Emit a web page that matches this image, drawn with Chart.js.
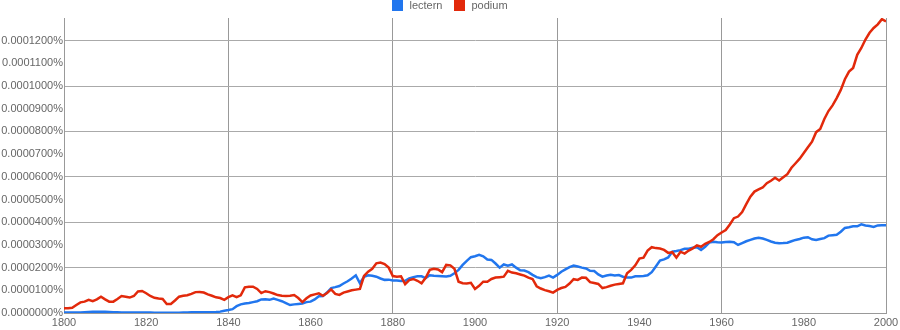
<!DOCTYPE html>
<html>
<head>
<meta charset="utf-8">
<script src="https://cdn.jsdelivr.net/npm/chart.js@4"></script>
<style>
  body { margin: 0; background: #fff; }
  #wrap { position: relative; width: 900px; height: 330px; }
  #legend {
    position: absolute; top: 0; left: 0; width: 900px;
    display: flex; justify-content: center; align-items: center;
    font: 11px "Liberation Sans", Arial, sans-serif; color: #666; line-height: 11px;
  }
  #legend .item { display: flex; align-items: center; margin: 0 6px; }
  #legend .box { width: 11px; height: 11px; margin-right: 6px; }
</style>
</head>
<body>
<div id="wrap">
  <canvas id="chart" width="900" height="330"></canvas>
  <div id="legend"></div>
</div>
<script>
// Ngram frequencies, in units of 0.0000001 %
const firstYear = 1800;
const lastYear = 2000;
const years = Array.from({ length: lastYear - firstYear + 1 }, (_, i) => firstYear + i);

const lectern = [
  2, 2, 2, 2, 2, 3, 4, 5, 6, 5,            // 1800
  5, 4, 3, 3, 2, 2, 2, 2, 2, 2,            // 1810
  2, 2, 1, 1, 1, 1, 1, 1, 1, 2,            // 1820
  2, 3, 3, 3, 3, 3, 3, 4, 6, 10,           // 1830
  13, 17, 30, 38, 42, 44, 48, 52, 60, 61,  // 1840
  58, 64, 58, 52, 44, 35, 38, 40, 42, 48,  // 1850
  50, 60, 74, 75, 90, 110, 114, 119, 130, 140, // 1860
  152, 166, 131, 160, 166, 164, 160, 152, 146, 147, // 1870
  143, 143, 141, 142, 152, 158, 162, 162, 154, 166, // 1880
  164, 163, 162, 161, 164, 175, 190, 212, 230, 246, // 1890
  250, 256, 250, 236, 234, 218, 200, 214, 208, 214, // 1900
  200, 188, 187, 180, 168, 158, 153, 158, 165, 156, // 1910
  168, 182, 192, 202, 209, 205, 200, 196, 186, 185, // 1920
  170, 160, 165, 168, 165, 167, 160, 156, 156, 162, // 1930
  162, 163, 166, 180, 205, 231, 236, 245, 270, 273, // 1940
  277, 283, 283, 288, 290, 278, 292, 310, 314, 312, // 1950
  311, 313, 314, 312, 300, 308, 316, 322, 328, 332, // 1960
  328, 322, 315, 310, 307, 308, 310, 316, 322, 326, // 1970
  332, 334, 325, 322, 326, 330, 341, 343, 345, 358, // 1980
  375, 378, 382, 382, 391, 386, 383, 379, 386, 387, // 1990
  387                                      // 2000
];

const podium = [
  21, 21, 23, 35, 47, 50, 58, 52, 60, 72,  // 1800
  60, 50, 50, 62, 75, 72, 68, 75, 95, 97,  // 1810
  87, 75, 67, 64, 62, 40, 40, 55, 72, 76,  // 1820
  78, 84, 92, 93, 90, 82, 76, 69, 66, 58,  // 1830
  70, 78, 70, 78, 113, 116, 116, 106, 88, 96, // 1840
  92, 86, 79, 76, 75, 76, 79, 66, 48, 65,  // 1850
  77, 82, 87, 76, 88, 104, 84, 80, 90, 95, // 1860
  100, 103, 106, 163, 182, 195, 219, 222, 216, 200, // 1870
  163, 160, 162, 127, 145, 150, 142, 131, 155, 190, // 1880
  195, 192, 180, 212, 210, 195, 138, 131, 130, 133, // 1890
  106, 120, 138, 138, 150, 156, 158, 160, 186, 178, // 1900
  175, 170, 165, 156, 150, 118, 108, 101, 96, 90,   // 1910
  102, 110, 115, 130, 149, 146, 156, 155, 136, 132, // 1920
  128, 110, 114, 120, 125, 128, 131, 175, 190, 210, // 1930
  240, 244, 275, 290, 286, 284, 278, 265, 268, 244, // 1940
  270, 262, 275, 285, 298, 292, 305, 313, 325, 343, // 1950
  355, 366, 390, 418, 425, 445, 480, 513, 535, 545, // 1960
  553, 572, 583, 596, 584, 598, 612, 640, 660, 680, // 1970
  705, 730, 755, 797, 811, 855, 890, 915, 947, 983, // 1980
  1030, 1064, 1080, 1138, 1168, 1205, 1235, 1256, 1272, 1295, // 1990
  1285                                     // 2000
];

const yMax = 1300;
const yStep = 100;
const xStep = 20;

const series = [
  { label: 'lectern', values: lectern, color: '#2176ee', order: 1 },
  { label: 'podium', values: podium, color: '#e2290b', order: 0 }
];

// html legend
const legendEl = document.getElementById('legend');
series.forEach(s => {
  const item = document.createElement('span');
  item.className = 'item';
  const box = document.createElement('span');
  box.className = 'box';
  box.style.background = s.color;
  item.appendChild(box);
  item.appendChild(document.createTextNode(s.label));
  legendEl.appendChild(item);
});

const fontFamily = '"Liberation Sans", Arial, sans-serif';

new Chart(document.getElementById('chart').getContext('2d'), {
  type: 'line',
  data: {
    datasets: series.map(s => ({
      label: s.label,
      data: s.values.map((v, i) => ({ x: years[i], y: v })),
      borderColor: s.color,
      backgroundColor: s.color,
      borderWidth: 2.5,
      pointRadius: 0,
      tension: 0,
      order: s.order
    }))
  },
  options: {
    responsive: false,
    animation: false,
    layout: { padding: { top: 18, right: 14, left: 0, bottom: 0 } },
    plugins: {
      legend: { display: false },
      tooltip: { enabled: false }
    },
    scales: {
      x: {
        type: 'linear',
        min: firstYear,
        max: lastYear,
        afterFit: scale => { scale.height = 17; scale.paddingRight = 0; },
        border: { color: '#999', width: 1 },
        grid: {
          drawTicks: false,
          color: ctx => (ctx.tick && ctx.tick.value % 40 === 0 && ctx.tick.value > firstYear) ? '#999' : 'rgba(0,0,0,0)'
        },
        ticks: {
          stepSize: xStep,
          padding: 3,
          maxRotation: 0,
          color: '#666',
          font: { family: fontFamily, size: 11 },
          callback: v => String(v)
        }
      },
      y: {
        min: 0,
        max: yMax,
        afterFit: scale => { scale.width = 64; },
        border: { color: '#999', width: 1 },
        grid: {
          drawTicks: false,
          color: ctx => (ctx.tick && ctx.tick.value % 200 === 0 && ctx.tick.value > 0 && ctx.tick.value < yMax) ? '#aaa' : 'rgba(0,0,0,0)'
        },
        ticks: {
          stepSize: yStep,
          padding: 1,
          color: '#666',
          font: { family: fontFamily, size: 11 },
          callback: v => v >= yMax ? '' : (v / 1e7).toFixed(7) + '%'
        }
      }
    }
  }
});
</script>
</body>
</html>
